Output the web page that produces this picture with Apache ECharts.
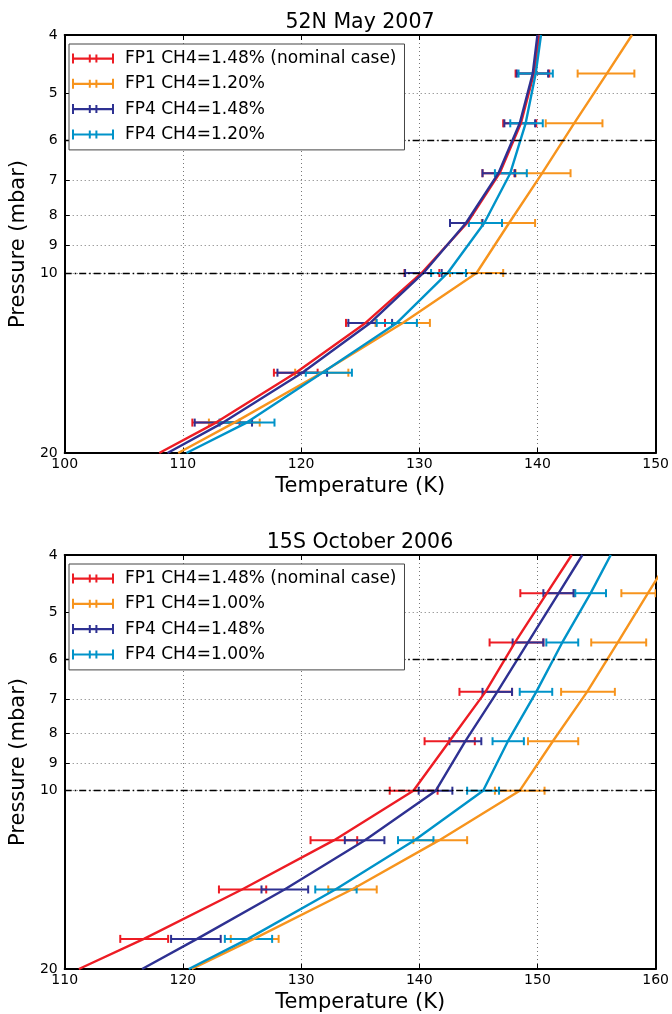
<!DOCTYPE html>
<html><head><meta charset="utf-8">
<script src="https://cdn.jsdelivr.net/npm/echarts@6/dist/echarts.min.js"></script>
<style>html,body{margin:0;padding:0;background:#fff}#c{width:672px;height:1014px}</style>
</head><body><div id="c"></div><script>
const FONT = 'DejaVu Sans';
const titles = ['52N May 2007', '15S October 2006'];
const namesTop = ['FP1 CH4=1.48% (nominal case)', 'FP1 CH4=1.20%', 'FP4 CH4=1.48%', 'FP4 CH4=1.20%'];
const namesBot = ['FP1 CH4=1.48% (nominal case)', 'FP1 CH4=1.00%', 'FP4 CH4=1.48%', 'FP4 CH4=1.00%'];
const colors = ['#ed1c24', '#f7941d', '#2e3192', '#0093c9'];
const yTicks = [4, 5, 6, 7, 8, 9, 10, 20];
const refLines = [6, 10];
const linePressure = [20, 17.79, 14.68, 12.12, 10, 8.25, 6.81, 5.62, 4.64, 4];
const errPressure = [17.79, 14.68, 12.12, 10, 8.25, 6.81, 5.62, 4.64];

// ---- top panel (52N May 2007) ----
const topRedT    = [108.0, 112.8, 119.55, 125.45, 130.2, 134.05, 136.8, 138.6, 139.7, 140.15];
const topOrangeT = [109.6, 114.35, 121.75, 128.6, 134.85, 137.6, 140.4, 143.1, 145.87, 148.0];
const topBlueT   = [108.7, 113.4, 120.1, 125.85, 130.35, 133.95, 136.7, 138.5, 139.6, 140.0];
const topCyanT   = [110.3, 115.4, 121.8, 128.1, 132.4, 135.5, 137.7, 139.0, 139.85, 140.3];

const topRedLo    = [110.8, 117.7, 123.8, 128.75, 132.6, 135.35, 137.1, 138.15];
const topRedHi    = [114.8, 121.4, 127.1, 131.7, 135.3, 138.05, 139.9, 141.0];
const topOrangeLo = [112.2, 119.5, 126.3, 132.6, 135.3, 138.15, 140.7, 143.4];
const topOrangeHi = [116.5, 124.0, 130.9, 137.1, 139.8, 142.8, 145.5, 148.2];
const topBlueLo   = [111.0, 118.0, 124.0, 128.8, 132.6, 135.35, 137.2, 138.25];
const topBlueHi   = [115.85, 122.2, 127.7, 131.9, 135.35, 138.1, 139.8, 140.9];
const topCyanLo   = [113.1, 120.4, 126.4, 131.0, 134.2, 136.4, 137.7, 138.4];
const topCyanHi   = [117.75, 124.3, 129.8, 133.95, 137.0, 139.1, 140.45, 141.3];

// ---- bottom panel (15S October 2006) ----
const botRedT    = [111.2, 116.7, 125.0, 132.8, 139.5, 142.55, 145.6, 148.1, 150.8, 152.9];
const botOrangeT = [120.75, 126.0, 134.3, 141.7, 148.5, 151.3, 154.2, 156.8, 159.35, 161.35];
const botBlueT   = [116.55, 121.2, 128.6, 135.4, 141.4, 143.9, 146.6, 149.2, 151.8, 153.8];
const botCyanT   = [120.5, 125.5, 132.9, 139.6, 145.4, 147.5, 149.9, 152.1, 154.5, 156.2];

const botRedLo    = [114.7, 123.05, 130.8, 137.5, 140.45, 143.4, 145.95, 148.55];
const botRedHi    = [118.75, 127.05, 134.75, 141.55, 144.7, 147.85, 150.5, 153.1];
const botOrangeLo = [124.05, 132.3, 139.5, 146.4, 149.2, 152.0, 154.55, 157.1];
const botOrangeHi = [128.1, 136.4, 144.05, 150.6, 153.45, 156.55, 159.2, 160.0];
const botBlueLo   = [119.0, 126.65, 133.7, 139.95, 142.55, 145.35, 147.9, 150.5];
const botBlueHi   = [123.2, 130.6, 137.05, 142.8, 145.25, 147.85, 150.5, 153.05];
const botCyanLo   = [123.55, 131.2, 138.2, 144.05, 146.2, 148.5, 150.75, 153.2];
const botCyanHi   = [127.55, 134.7, 141.2, 146.75, 148.85, 151.25, 153.45, 155.8];

const panels = [
  { names: namesTop, xmin: 100, xmax: 150,
    lines: [topRedT, topOrangeT, topBlueT, topCyanT],
    lo: [topRedLo, topOrangeLo, topBlueLo, topCyanLo],
    hi: [topRedHi, topOrangeHi, topBlueHi, topCyanHi] },
  { names: namesBot, xmin: 110, xmax: 160,
    lines: [botRedT, botOrangeT, botBlueT, botCyanT],
    lo: [botRedLo, botOrangeLo, botBlueLo, botCyanLo],
    hi: [botRedHi, botOrangeHi, botBlueHi, botCyanHi] }
];

const GRID_TOP = [35, 555];
const black = '#000';

function renderErr(params, api) {
  const lo = api.value(0), hi = api.value(1), p = api.value(2);
  const a = api.coord([lo, p]), b = api.coord([hi, p]);
  const h = 4;
  const style = { stroke: api.visual('color'), lineWidth: 2, fill: null };
  return { type: 'group', children: [
    { type: 'line', shape: { x1: a[0], y1: a[1], x2: b[0], y2: b[1] }, style },
    { type: 'line', shape: { x1: a[0], y1: a[1] - h, x2: a[0], y2: a[1] + h }, style },
    { type: 'line', shape: { x1: b[0], y1: b[1] - h, x2: b[0], y2: b[1] + h }, style }
  ]};
}

const legendIcon = 'path://M0,4L42,4L42,6.2L0,6.2Z M0,0L2,0L2,10L0,10Z M40,0L42,0L42,10L40,10Z M16.8,1L18.8,1L18.8,9L16.8,9Z M23.4,1L25.4,1L25.4,9L23.4,9Z';

const grid = [], xAxis = [], yAxis = [], series = [], legend = [], graphic = [];
panels.forEach((pn, k) => {
  grid.push({ left: 62, top: GRID_TOP[k], width: 595, height: 418 });
  xAxis.push({
    gridIndex: k, type: 'value', min: pn.xmin, max: pn.xmax, interval: 10, position: 'bottom',
    axisLine: { show: true, onZero: false, lineStyle: { color: black, width: 2 } },
    axisTick: { show: true, inside: true, length: 5, lineStyle: { color: black, width: 1 } },
    axisLabel: { color: black, fontSize: 14, fontFamily: FONT, margin: 4 },
    splitLine: { show: true, lineStyle: { color: '#777', width: 1, type: [1, 3] } },
    name: 'Temperature (K)', nameLocation: 'middle', nameGap: 23,
    nameTextStyle: { color: black, fontSize: 21, fontFamily: FONT }
  });
  xAxis.push({
    gridIndex: k, type: 'value', min: pn.xmin, max: pn.xmax, interval: 10, position: 'top',
    axisLine: { show: true, onZero: false, lineStyle: { color: black, width: 2 } },
    axisTick: { show: true, inside: true, length: 5, lineStyle: { color: black, width: 1 } },
    axisLabel: { show: false }, splitLine: { show: false }
  });
  yAxis.push({
    gridIndex: k, type: 'log', min: 4, max: 20, inverse: true, position: 'left',
    axisLine: { show: true, onZero: false, lineStyle: { color: black, width: 2 } },
    axisTick: { show: true, inside: true, length: 5, customValues: yTicks, lineStyle: { color: black, width: 1 } },
    axisLabel: { color: black, fontSize: 14, fontFamily: FONT, margin: 7, customValues: yTicks,
                 formatter: v => String(Math.round(v)) },
    splitLine: { show: true, lineStyle: { color: '#777', width: 1, type: [1, 3] } },
    minorTick: { show: false }, minorSplitLine: { show: false },
    name: 'Pressure (mbar)', nameLocation: 'middle', nameGap: 20,
    nameTextStyle: { color: black, fontSize: 21, fontFamily: FONT }
  });
  yAxis.push({
    gridIndex: k, type: 'log', min: 4, max: 20, inverse: true, position: 'right',
    axisLine: { show: true, onZero: false, lineStyle: { color: black, width: 2 } },
    axisTick: { show: true, inside: true, length: 5, customValues: yTicks, lineStyle: { color: black, width: 1 } },
    axisLabel: { show: false }, splitLine: { show: false }
  });
  pn.names.forEach((nm, i) => {
    series.push({
      type: 'line', name: nm, xAxisIndex: 2 * k, yAxisIndex: 2 * k,
      data: linePressure.map((p, j) => [pn.lines[i][j], p]),
      showSymbol: false, symbol: 'none', color: colors[i],
      lineStyle: { width: 2.4, color: colors[i] }, animation: false, z: 3
    });
    series.push({
      type: 'custom', name: nm, xAxisIndex: 2 * k, yAxisIndex: 2 * k,
      data: errPressure.map((p, j) => [pn.lo[i][j], pn.hi[i][j], p]),
      encode: { x: [0, 1], y: 2 }, renderItem: renderErr, clip: true,
      itemStyle: { color: colors[i] }, color: colors[i], animation: false, z: 3
    });
  });
  series.push({
    type: 'line', name: 'ref' + k, xAxisIndex: 2 * k, yAxisIndex: 2 * k, data: [],
    markLine: { silent: true, symbol: ['none', 'none'], animation: false,
      label: { show: false },
      lineStyle: { color: black, width: 1.3, type: [7, 3, 1.5, 3] },
      data: refLines.map(v => ({ yAxis: v })) }, z: 3
  });
  legend.push({
    data: pn.names, orient: 'vertical', left: 69, top: GRID_TOP[k] + 9,
    icon: legendIcon, itemWidth: 42, itemHeight: 10, itemGap: 6.3,
    padding: [5, 8, 6, 3], backgroundColor: '#fff', borderColor: '#444', borderWidth: 1,
    borderRadius: 0, selectedMode: false, z: 20,
    itemStyle: { borderWidth: 0 },
    textStyle: { color: black, fontSize: 17, fontFamily: FONT, lineHeight: 19, padding: [0, 0, 0, 6] }
  });
  graphic.push({
    type: 'text', x: 360, y: GRID_TOP[k] - 23,
    style: { text: titles[k], font: '20.5px "DejaVu Sans"', fill: black, align: 'center', verticalAlign: 'top' }
  });
});

const chart = echarts.init(document.getElementById('c'), null, { renderer: 'canvas' });
chart.setOption({ animation: false, grid, xAxis, yAxis, series, legend, graphic });
</script></body></html>
